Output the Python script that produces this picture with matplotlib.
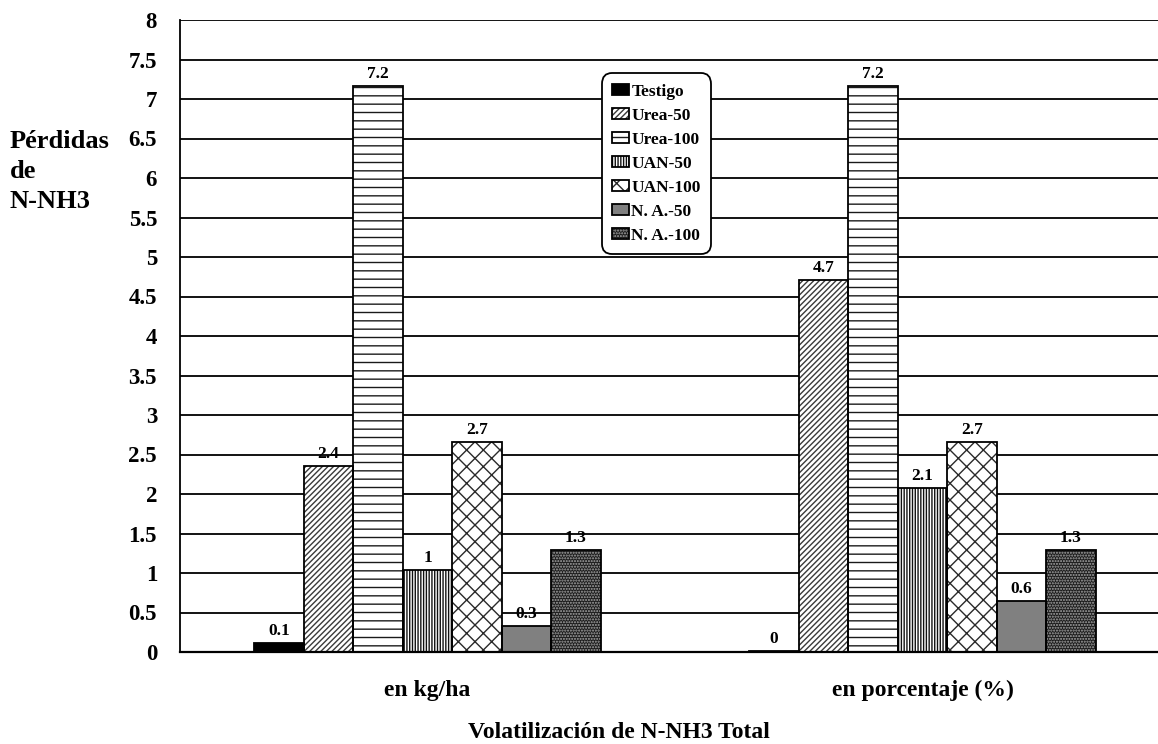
import matplotlib
matplotlib.use("Agg")
import matplotlib.pyplot as plt
from matplotlib.legend_handler import HandlerTuple
import numpy as np

# Data: NH3-N volatilisation losses by treatment
categories = ["en kg/ha", "en porcentaje (%)"]
series = ["Testigo", "Urea-50", "Urea-100", "UAN-50", "UAN-100", "N. A.-50", "N. A.-100"]
testigo = [0.11, 0.01]
urea_50 = [2.36, 4.71]
urea_100 = [7.16, 7.16]
uan_50 = [1.04, 2.08]
uan_100 = [2.66, 2.66]
na_50 = [0.33, 0.64]
na_100 = [1.29, 1.29]
values = [testigo, urea_50, urea_100, uan_50, uan_100, na_50, na_100]
y_ticks = [0, 0.5, 1, 1.5, 2, 2.5, 3, 3.5, 4, 4.5, 5, 5.5, 6, 6.5, 7, 7.5, 8]

# (face colour, hatch, hatch colour) per series
styles = [
    ("#000000", None, "#000000"),
    ("#ffffff", "//////", "#3a3a3a"),
    ("#ffffff", "--", "#1a1a1a"),
    ("#ffffff", "||||||", "#111111"),
    ("#ffffff", "xx", "#2a2a2a"),
    ("#808080", None, "#808080"),
    ("#1c1c1c", "......", "#a8a8a8"),
]

plt.rcParams["font.family"] = ["Liberation Serif", "DejaVu Serif"]
plt.rcParams["font.weight"] = "bold"
plt.rcParams["hatch.linewidth"] = 1.0

W, H = 1158, 744
fig = plt.figure(figsize=(W / 100, H / 100), dpi=100)
ax = fig.add_axes([180 / W, 92 / H, 990 / W, 632 / H])

x = np.arange(len(categories))
bw = 0.1

def fmt(v):
    s = f"{v:.1f}"
    return s[:-2] if s.endswith(".0") else s

handles = []
for i, (name, vals, (fc, hatch, hc)) in enumerate(zip(series, values, styles)):
    xs = x + (i - 3) * bw
    fill = ax.bar(xs, vals, bw, color=fc, hatch=hatch, edgecolor=hc,
                  linewidth=0, zorder=2)
    edge = ax.bar(xs, vals, bw, fill=False, edgecolor="black",
                  linewidth=1.3, zorder=3)
    handles.append((fill.patches[0], edge.patches[0]))
    for xx, v in zip(xs, vals):
        ax.annotate(fmt(v), (xx, v), xytext=(0, 5.8), textcoords="offset points",
                    ha="center", va="baseline", fontsize=12.5, fontweight="bold")

ax.set_xlim(-0.5, 1.5)
ax.set_ylim(0, 8)
ax.set_yticks(y_ticks)
ax.set_yticklabels([f"{t:g}" for t in y_ticks], fontsize=16.5, fontweight="bold")
ax.set_xticks(x)
ax.set_xticklabels(categories, fontsize=17, fontweight="bold")
ax.tick_params(axis="y", length=0, pad=16.5)
ax.tick_params(axis="x", length=0, pad=20)
ax.yaxis.grid(True, color="black", linewidth=1.3)
ax.set_axisbelow(True)
for s in ("top", "right"):
    ax.spines[s].set_visible(False)
ax.spines["left"].set_linewidth(1.3)
ax.spines["bottom"].set_linewidth(1.6)

leg = ax.legend(handles, series, handler_map={tuple: HandlerTuple(ndivide=1)},
                loc="upper left", bbox_to_anchor=(601.7 / W, 1 - 73.3 / H),
                bbox_transform=fig.transFigure, prop={"size": 12.5, "weight": "bold"},
                handlelength=1.0, handleheight=0.55, handletextpad=0.1,
                labelspacing=0.46, borderpad=0.6, borderaxespad=0,
                fancybox=True, framealpha=1, edgecolor="black")
leg.get_frame().set_linewidth(1.3)
leg.get_frame().set_boxstyle("round", pad=0, rounding_size=0.6)
leg.set_zorder(5)

fig.text(10 / W, 1 - 130 / H, "Pérdidas\nde\nN-NH3", ha="left", va="top",
         fontsize=19, fontweight="bold", linespacing=1.38)
fig.text(619 / W, 1 - 733 / H, "Volatilización de N-NH3 Total", ha="center",
         va="center", fontsize=17, fontweight="bold")

fig.savefig("out.png", dpi=100)
